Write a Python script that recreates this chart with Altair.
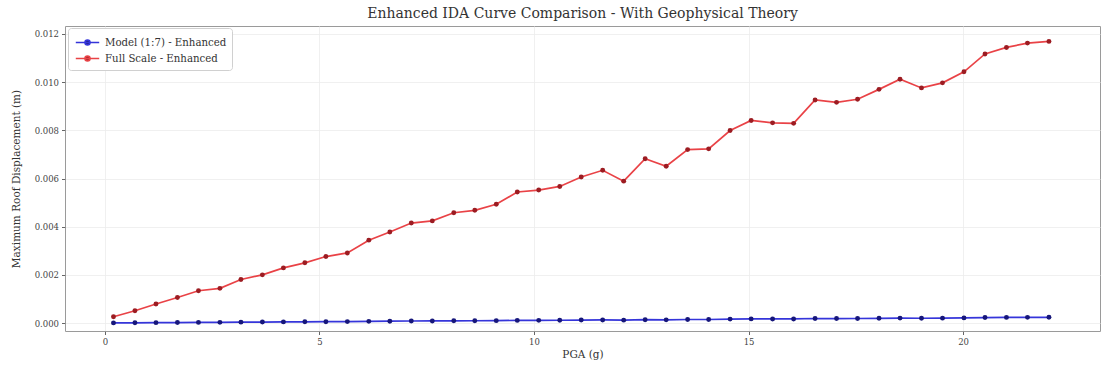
import altair as alt
import pandas as pd

pga = [0.20, 0.70, 1.19, 1.69, 2.18, 2.68, 3.17, 3.67, 4.16, 4.66,
       5.15, 5.65, 6.15, 6.64, 7.14, 7.63, 8.13, 8.62, 9.12, 9.61,
       10.11, 10.60, 11.10, 11.60, 12.09, 12.59, 13.08, 13.58, 14.07, 14.57,
       15.06, 15.56, 16.05, 16.55, 17.05, 17.54, 18.04, 18.53, 19.03, 19.52,
       20.02, 20.51, 21.01, 21.50, 22.00]

full_scale = [0.00026, 0.00051, 0.00079, 0.00106, 0.00134, 0.00144, 0.00181, 0.00200, 0.00229, 0.00250,
              0.00276, 0.00291, 0.00344, 0.00378, 0.00415, 0.00424, 0.00458, 0.00468, 0.00493, 0.00544,
              0.00552, 0.00567, 0.00606, 0.00634, 0.00589, 0.00682, 0.00651, 0.00720, 0.00723, 0.00799,
              0.00841, 0.00831, 0.00829, 0.00926, 0.00916, 0.00929, 0.00970, 0.01012, 0.00976, 0.00997,
              0.01043, 0.01117, 0.01144, 0.01162, 0.01169]

model = [0.0000053, 0.0000104, 0.0000161, 0.0000216, 0.0000273, 0.0000294, 0.0000369, 0.0000408, 0.0000467, 0.0000510,
         0.0000563, 0.0000594, 0.0000702, 0.0000771, 0.0000847, 0.0000865, 0.0000935, 0.0000955, 0.0001006, 0.0001110,
         0.0001127, 0.0001157, 0.0001237, 0.0001294, 0.0001202, 0.0001392, 0.0001329, 0.0001469, 0.0001476, 0.0001631,
         0.0001716, 0.0001696, 0.0001692, 0.0001890, 0.0001870, 0.0001896, 0.0001980, 0.0002065, 0.0001992, 0.0002035,
         0.0002129, 0.0002280, 0.0002335, 0.0002371, 0.0002386]

series_names = ["Model (1:7) - Enhanced", "Full Scale - Enhanced"]
line_colors = ["#2a2ad8", "#e8383c"]
point_colors = ["#16167a", "#9c1c22"]

x_ticks = [0, 5, 10, 15, 20]
y_ticks = [0.000, 0.002, 0.004, 0.006, 0.008, 0.010, 0.012]

df = pd.DataFrame({
    "PGA": pga + pga,
    "disp": model + full_scale,
    "series": [series_names[0]] * len(pga) + [series_names[1]] * len(pga),
})

FONT = "DejaVu Serif"

x_enc = alt.X("PGA:Q",
              scale=alt.Scale(domain=[-0.93, 23.19], nice=False, zero=False),
              axis=alt.Axis(values=x_ticks, title="PGA (g)", format="d"))
y_enc = alt.Y("disp:Q",
              scale=alt.Scale(domain=[-0.00033, 0.01233], nice=False, zero=False),
              axis=alt.Axis(values=y_ticks, title="Maximum Roof Displacement (m)", format=".3f"))

base = alt.Chart(df).encode(x=x_enc, y=y_enc, detail="series:N")

line = base.mark_line(strokeWidth=1.7, opacity=0.95).encode(
    color=alt.Color("series:N",
                    scale=alt.Scale(domain=series_names, range=line_colors),
                    legend=alt.Legend(
                        title=None, orient="none", legendX=3, legendY=2,
                        symbolType="M-1.4,0H1.4M0.3,0A0.3,0.3 0 1,1 -0.3,0A0.3,0.3 0 1,1 0.3,0",
                        symbolSize=280, symbolStrokeWidth=1.6, symbolOffset=5,
                        labelFont=FONT, labelFontSize=10.2, labelColor="#333",
                        labelOffset=8,
                        padding=5, rowPadding=-2,
                        strokeColor="#d0d0d0", fillColor="white", cornerRadius=3,
                    ))
)

pts = base.mark_point(filled=True, size=24, opacity=1).encode(
    fill=alt.Fill("series:N", scale=alt.Scale(domain=series_names, range=point_colors), legend=None),
    stroke=alt.value("transparent"),
)

chart = alt.layer(line, pts).properties(
    width=1035, height=305,
    title=alt.Title("Enhanced IDA Curve Comparison - With Geophysical Theory",
                    font=FONT, fontSize=14, fontWeight="normal", color="#333", offset=5),
    autosize=alt.AutoSizeParams(type="none"),
    padding={"left": 65, "top": 26, "right": 14, "bottom": 47},
).configure_view(
    stroke="#9a9a9a", strokeWidth=1
).configure_axis(
    labelFont=FONT, labelFontSize=8.5, labelColor="#444",
    titleFont=FONT, titleFontSize=10.5, titleColor="#333", titleFontWeight="normal",
    grid=True, gridColor="#ececec", gridWidth=0.8,
    domain=False, tickColor="#666", tickSize=3.5,
).configure_axisY(
    titlePadding=13, labelPadding=3
).configure_axisX(
    titlePadding=3, labelPadding=3
)

chart.save("out.html", embed_options={"renderer": "svg", "actions": False})
